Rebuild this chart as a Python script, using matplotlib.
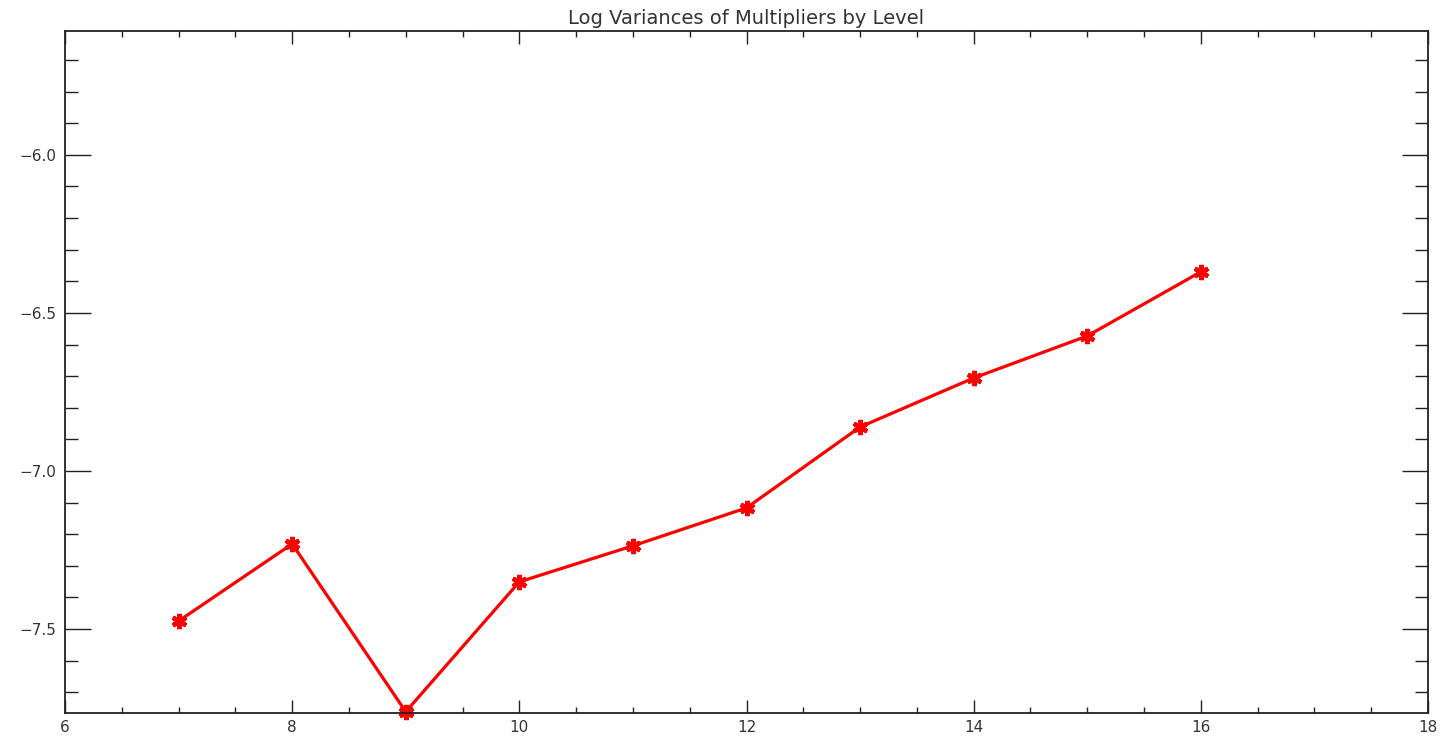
import matplotlib
matplotlib.use("Agg")
import matplotlib.pyplot as plt
from matplotlib.ticker import MultipleLocator

levels = [7, 8, 9, 10, 11, 12, 13, 14, 15, 16]
log_var = [-7.475, -7.231, -7.762, -7.351, -7.237, -7.117, -6.861, -6.706, -6.573, -6.370]

W, H = 1442, 741
fig = plt.figure(figsize=(W/100, H/100), dpi=100)
ax = fig.add_axes([65/W, 1-713/H, (1428-65)/W, (713-31)/H])

ax.plot(levels, log_var, color='red', lw=2.3, marker=(6, 2, 0), ms=11, mew=3.2,
        mec='red', mfc='red', clip_on=False)

ax.set_xlim(6, 18)
ax.set_ylim(-7.766, -5.608)
ax.xaxis.set_major_locator(MultipleLocator(2))
ax.xaxis.set_minor_locator(MultipleLocator(0.5))
ax.yaxis.set_major_locator(MultipleLocator(0.5))
ax.yaxis.set_minor_locator(MultipleLocator(0.1))
ax.yaxis.set_major_formatter(matplotlib.ticker.FuncFormatter(lambda v, p: f"{v:.1f}".replace('-', '\u2212')))

ax.tick_params(which='both', direction='in', top=True, right=True, color='#222', width=1.0,
               labelsize=11, labelcolor='#333')
ax.tick_params(axis='y', which='major', length=18.7, pad=6)
ax.tick_params(axis='y', which='minor', length=9.4)
ax.tick_params(axis='x', which='major', length=9.4, pad=5)
ax.tick_params(axis='x', which='minor', length=4.3)
for s in ax.spines.values():
    s.set_linewidth(1.3)
    s.set_color('#222')

ax.set_title("Log Variances of Multipliers by Level", fontsize=14, color='#333', pad=5)

fig.savefig("out.png", dpi=100)
